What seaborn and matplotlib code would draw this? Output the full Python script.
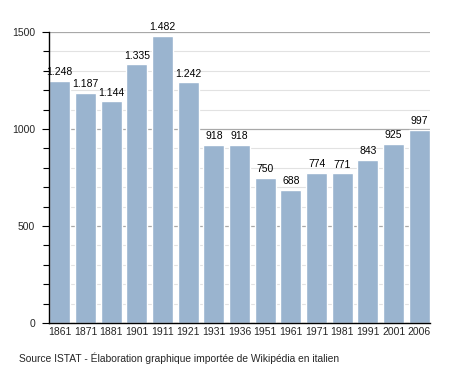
import matplotlib
matplotlib.use("Agg")
import matplotlib.pyplot as plt
import seaborn as sns
import pandas as pd
from matplotlib.ticker import MultipleLocator

years = ["1861", "1871", "1881", "1901", "1911", "1921", "1931", "1936",
         "1951", "1961", "1971", "1981", "1991", "2001", "2006"]
population = [1248, 1187, 1144, 1335, 1482, 1242, 918, 918,
              750, 688, 774, 771, 843, 925, 997]
labels = ["1.248", "1.187", "1.144", "1.335", "1.482", "1.242", "918", "918",
          "750", "688", "774", "771", "843", "925", "997"]

sns.set_style("white")
plt.rcParams["font.family"] = ["Liberation Sans", "DejaVu Sans"]

df = pd.DataFrame({"year": years, "pop": population})

fig = plt.figure(figsize=(4.58, 3.73), dpi=100)
ax = fig.add_axes([0.107, 0.134, 0.832, 0.780])

sns.barplot(data=df, x="year", y="pop", color="#9AB4CF", saturation=1,
            width=0.82, ax=ax, zorder=3)

ax.set_ylim(0, 1500)
ax.set_xlim(-0.42, len(years) - 0.58)
ax.yaxis.set_major_locator(MultipleLocator(500))
ax.yaxis.set_minor_locator(MultipleLocator(100))
ax.grid(True, which="minor", axis="y", color="#e2e2e2", lw=0.8, zorder=0)
ax.grid(True, which="major", axis="y", color="#a8a8a8", lw=0.9, zorder=0)
ax.set_axisbelow(True)

for s in ["top", "right"]:
    ax.spines[s].set_visible(False)
for s in ["left", "bottom"]:
    ax.spines[s].set_color("black")
    ax.spines[s].set_linewidth(1.0)
    ax.spines[s].set_zorder(5)

ax.tick_params(axis="y", which="major", length=5, width=0.8, color="black",
               labelsize=7.5, pad=5, left=True)
ax.tick_params(axis="y", which="minor", length=4, width=0.8, color="black", left=True)
ax.tick_params(axis="x", length=0, labelsize=7.5, pad=3)
ax.set_xlabel("")
ax.set_ylabel("")

for i, (v, t) in enumerate(zip(population, labels)):
    ax.text(i, v + 18, t, ha="center", va="bottom", fontsize=7.5, color="black", zorder=6)

fig.text(0.042, 0.04, "Source ISTAT - Élaboration graphique importée de Wikipédia en italien",
         fontsize=7.4, ha="left", va="center")

fig.savefig("out.png", dpi=100)
